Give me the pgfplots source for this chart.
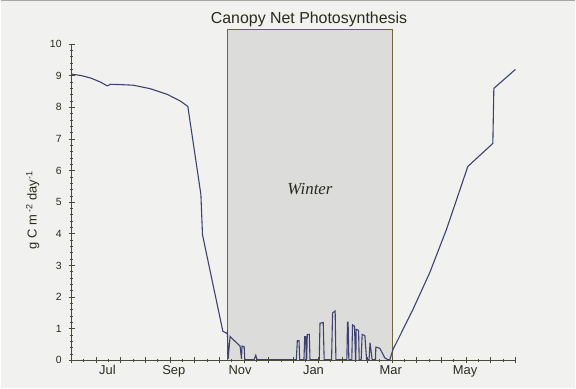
\documentclass[border=0pt]{standalone}
\usepackage{fontspec}
\setmainfont{Liberation Sans}
\newfontfamily\serifit{Liberation Serif}
\usepackage{pgfplots}
\pgfplotsset{compat=1.18}
\definecolor{bg}{HTML}{F1F1F0}
\definecolor{winterfill}{HTML}{DCDCDB}
\definecolor{rectedge}{HTML}{6F6440}
\definecolor{axcol}{HTML}{4A4A38}
\definecolor{txt}{HTML}{2A2A1E}
\definecolor{curve}{HTML}{3D4170}
\begin{document}
\begin{tikzpicture}
\fill[bg] (0,0) rectangle (576bp,389bp);
\draw[gray!70, line width=1.5bp] (0,388.5bp) -- (576bp,388.5bp);
\begin{axis}[
  at={(71bp,28bp)}, anchor=south west,
  scale only axis, width=445bp, height=317bp,
  xmin=0, xmax=360, ymin=0, ymax=10,
  axis x line=bottom, axis y line=left,
  axis line style={-, color=axcol, line width=1pt},
  axis on top, clip=false,
  xtick={0,20,...,360}, xticklabels={},
  minor x tick num=1,
  ytick={0,1,...,10}, minor y tick num=4,
  tick align=center,
  major tick length=6bp, minor tick length=3bp,
  tick style={color=axcol, line width=0.8pt},
  extra x ticks={29.1,82.9,136.7,196.2,258.9,319.2},
  extra x tick labels={Jul,Sep,Nov,Jan,Mar,May},
  extra x tick style={major tick length=0pt},
  xticklabel style={font=\fontsize{13}{14}\selectfont, text=txt, yshift=-1.5bp},
  yticklabel style={font=\fontsize{10.5}{12}\selectfont, text=txt, xshift=-3.5bp},
  /pgf/number format/assume math mode=true,
]
\draw[rectedge, line width=1pt, fill=winterfill] (axis cs:126.2,0) rectangle (axis cs:260.1,10.47);

\addplot[curve, line width=1.1pt] coordinates {
(0,9.05) (7.3,9.01) (15.4,8.93) (23.5,8.80) (28.9,8.68) (31.6,8.73) (39.6,8.72)
(50.2,8.70) (63.9,8.59) (77.7,8.41) (88.2,8.20) (94.3,8.03) (104.9,5.24) (106.2,3.97)
(122.7,0.92) (126.0,0.85) (126.4,0.89) (127.0,0.05) (128.6,0.75) (136.7,0.45) (137.8,0.05)
(138.3,0.45) (140.0,0.43) (140.5,0.02) (148.1,0.02) (149.4,0.16) (150.5,0.02)
(182.3,0.02) (183.1,0.62) (184.5,0.62) (185.0,0.02)
(188.5,0.02) (189.1,0.75) (189.9,0.75) (190.4,0.02)
(190.7,0.02) (191.2,0.82) (192.8,0.82) (193.4,0.02)
(200.9,0.02) (201.5,1.17) (204.1,1.20) (204.9,0.02)
(210.9,0.02) (211.7,1.50) (213.8,1.56) (214.4,0.02)
(223.3,0.02) (223.8,1.21) (224.3,1.21) (224.9,0.02)
(227.3,0.02) (227.9,1.12) (229.5,1.08) (230.3,0.02)
(230.6,0.02) (230.8,0.98) (232.8,0.95) (233.3,0.02)
(234.9,0.02) (235.7,0.82) (237.9,0.78) (239.3,0.02)
(241.3,0.02) (242.1,0.56) (243.8,0.02)
(246.5,0.02) (246.8,0.42) (250.0,0.38) (252.2,0.22) (254.0,0.08) (256.5,0.02) (258.1,0.02)
(260.8,0.35) (266.2,0.77) (276.9,1.61) (290.5,2.77) (304.0,4.13) (321.4,6.13)
(341.7,6.86) (342.5,8.60) (360.0,9.20)
};

\node[font=\fontsize{16}{18}\selectfont, text=txt] at (axis cs:192.6,10.79) {Canopy Net Photosynthesis};
\node[font=\serifit\itshape\fontsize{17}{19}\selectfont, text=txt] at (axis cs:193.4,5.43) {Winter};
\node[rotate=90, font=\fontsize{13}{15}\selectfont, text=txt] at (axis cs:-31.6,4.75) {g C m\,\textsuperscript{-2} day\textsuperscript{-1}};
\end{axis}
\end{tikzpicture}
\end{document}
